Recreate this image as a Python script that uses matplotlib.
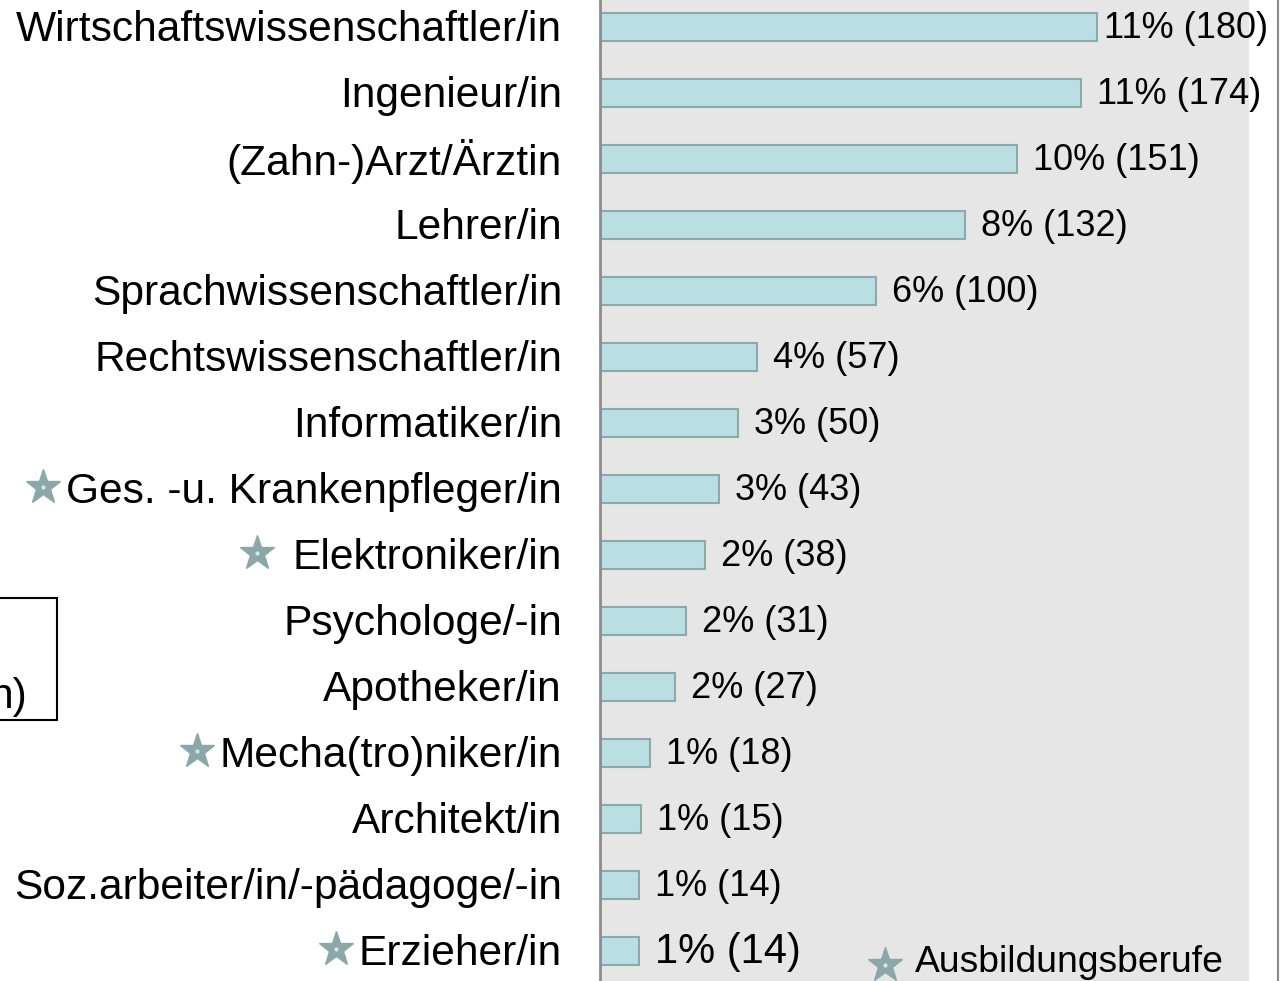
import numpy as np
import matplotlib.pyplot as plt
from matplotlib.patches import Rectangle
from matplotlib.lines import Line2D

plt.rcParams['font.family'] = ['Liberation Sans', 'DejaVu Sans']

# data (top to bottom)
berufe = ["Wirtschaftswissenschaftler/in", "Ingenieur/in", "(Zahn-)Arzt/Ärztin",
          "Lehrer/in", "Sprachwissenschaftler/in", "Rechtswissenschaftler/in",
          "Informatiker/in", "Ges. -u. Krankenpfleger/in", "Elektroniker/in",
          "Psychologe/-in", "Apotheker/in", "Mecha(tro)niker/in", "Architekt/in",
          "Soz.arbeiter/in/-pädagoge/-in", "Erzieher/in"]
anzahl = [180, 174, 151, 132, 100, 57, 50, 43, 38, 31, 27, 18, 15, 14, 14]
prozent = [11, 11, 10, 8, 6, 4, 3, 3, 2, 2, 2, 1, 1, 1, 1]
ausbildung = ["Ges. -u. Krankenpfleger/in", "Elektroniker/in",
              "Mecha(tro)niker/in", "Erzieher/in"]

W, H = 1285, 981
fig = plt.figure(figsize=(W / 100, H / 100), dpi=100)

bar_col = "#b9dfe2"
edge_col = "#8fa8ab"
star_col = "#8ba7aa"


def star(x, y):
    # star with the small light dot in the middle
    fig.add_artist(Line2D([x / W], [y / H], marker="*", markersize=26,
                          color=star_col, mec=star_col, transform=fig.transFigure))
    fig.add_artist(Line2D([x / W], [y / H], marker="o", markersize=2,
                          color="#cfe8ea", mec="#cfe8ea", transform=fig.transFigure))


# axes runs past the top and bottom edge of the figure
ax = fig.add_axes([600 / W, -3 / H, 649 / W, 990 / H])
ax.set_facecolor("#e6e6e6")
y = np.arange(len(berufe))
ax.barh(y, anzahl, height=0.41, color=bar_col, edgecolor=edge_col, linewidth=1.5)
ax.set_xlim(0, 235)
ax.set_ylim(len(berufe) - 0.5, -0.5)
ax.set_xticks([])
ax.set_yticks([])
for s in ["top", "right", "bottom"]:
    ax.spines[s].set_visible(False)
ax.spines["left"].set_color("#8c8c8c")
ax.spines["left"].set_linewidth(2)

# value labels
for i in range(len(berufe)):
    pad = 7 if i == 0 else 16
    fs = 30 if i == len(berufe) - 1 else 26
    ax.annotate(f"{prozent[i]}% ({anzahl[i]})", (anzahl[i], i),
                xytext=(pad * 0.72, -1), textcoords="offset points",
                va="center", ha="left", fontsize=fs, annotation_clip=False)

# category labels
labels = []
for i, b in enumerate(berufe):
    t = ax.annotate(b, (0, i), xytext=(-38 * 0.72, -2), textcoords="offset points",
                    va="center", ha="right", fontsize=30.6, annotation_clip=False)
    labels.append(t)

# stars in front of vocational jobs
fig.canvas.draw()
r = fig.canvas.get_renderer()
for t, b in zip(labels, berufe):
    if b in ausbildung:
        bb = t.get_window_extent(r)
        gap = 36 if b == "Elektroniker/in" else 23
        star(bb.x0 - gap, (bb.y0 + bb.y1) / 2 + 5)

# legend for stars
star(885, H - 965)
fig.text(915 / W, (H - 963) / H, "Ausbildungsberufe", fontsize=26.8,
         va="center", ha="left")

# box on the left cut by the edge
fig.add_artist(Rectangle((-300 / W, (H - 720) / H), 357 / W, 122 / H,
                         transform=fig.transFigure, fill=False,
                         edgecolor="black", linewidth=1.5))
fig.text(27 / W, (H - 697) / H, "n)", fontsize=30.6, va="center", ha="right")

# right frame line
fig.add_artist(Line2D([1278 / W, 1278 / W], [0, 1], color="#8c8c8c",
                      linewidth=1.5, transform=fig.transFigure))

fig.savefig("out.png", dpi=100)
